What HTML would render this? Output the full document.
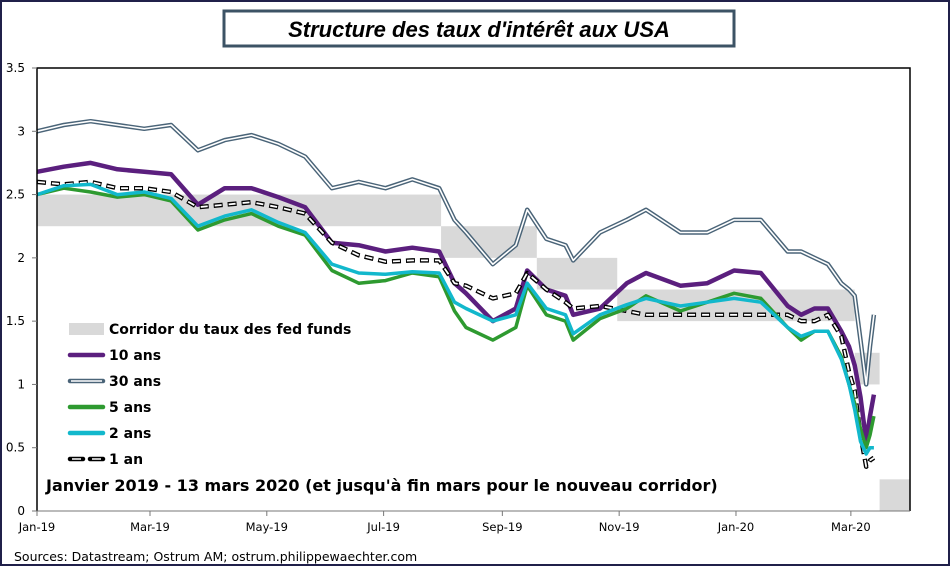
<!DOCTYPE html>
<html><head><meta charset="utf-8"><style>
body{margin:0;background:#fff}
svg{display:block;font-family:"DejaVu Sans","Liberation Sans",sans-serif}
</style></head><body>
<svg id="c" width="950" height="566" viewBox="0 0 950 566" xmlns="http://www.w3.org/2000/svg">
<rect x="1" y="1" width="948" height="564" fill="#fff" stroke="#20204a" stroke-width="2"/>
<rect x="224" y="11" width="510" height="35" fill="#fff" stroke="#3c5365" stroke-width="3"/>
<text x="479" y="37" text-anchor="middle" font-family="Liberation Sans, sans-serif" font-weight="bold" font-style="italic" font-size="22">Structure des taux d'intérêt aux USA</text>
<g id="plot"></g>
<g id="axes"></g>
<g id="legend"></g>
<text x="46" y="491" font-weight="bold" font-size="16">Janvier 2019 - 13 mars 2020 (et jusqu'à fin mars pour le nouveau corridor)</text>
<text x="14" y="561" font-size="12.5">Sources: Datastream;  Ostrum AM; ostrum.philippewaechter.com</text>
</svg>
<script>
// days since 2019-01-01
const days = [0,14,28,42,56,70,84,98,112,126,140,154,168,182,196,210,218,224,238,250,256,266,276,280,294,308,318,336,350,364,378,392,399,406,413,420,424,427,430,433,435,437];
const y30 = [3.0,3.05,3.08,3.05,3.02,3.05,2.85,2.93,2.97,2.9,2.8,2.55,2.6,2.55,2.62,2.55,2.3,2.2,1.95,2.1,2.38,2.15,2.1,1.98,2.2,2.3,2.38,2.2,2.2,2.3,2.3,2.05,2.05,2.0,1.95,1.8,1.75,1.7,1.35,1.0,1.3,1.55];
const y10 = [2.68,2.72,2.75,2.7,2.68,2.66,2.42,2.55,2.55,2.48,2.4,2.12,2.1,2.05,2.08,2.05,1.8,1.72,1.5,1.6,1.9,1.75,1.7,1.55,1.6,1.8,1.88,1.78,1.8,1.9,1.88,1.62,1.55,1.6,1.6,1.42,1.3,1.15,0.9,0.55,0.75,0.92];
const y5 = [2.5,2.55,2.52,2.48,2.5,2.45,2.22,2.3,2.35,2.25,2.18,1.9,1.8,1.82,1.88,1.85,1.58,1.45,1.35,1.45,1.78,1.55,1.5,1.35,1.52,1.6,1.7,1.58,1.65,1.72,1.68,1.45,1.35,1.42,1.42,1.22,1.0,0.85,0.65,0.5,0.6,0.75];
const y2 = [2.5,2.57,2.58,2.5,2.52,2.47,2.25,2.33,2.38,2.28,2.2,1.95,1.88,1.87,1.89,1.88,1.65,1.6,1.5,1.55,1.8,1.6,1.55,1.4,1.55,1.63,1.68,1.62,1.65,1.68,1.65,1.45,1.38,1.42,1.42,1.2,1.0,0.8,0.55,0.45,0.5,0.5];
const y1 = [2.6,2.58,2.6,2.55,2.55,2.52,2.4,2.42,2.44,2.4,2.35,2.12,2.02,1.97,1.98,1.98,1.8,1.78,1.68,1.72,1.88,1.75,1.65,1.6,1.62,1.58,1.55,1.55,1.55,1.55,1.55,1.55,1.5,1.5,1.55,1.38,1.1,0.95,0.6,0.35,0.4,0.42];
const corrStart = [0,211,261,303,427,440];
const corrEnd = [211,261,303,427,440,456];
const corrLow = [2.25,2.0,1.75,1.5,1.0,0.0];
const corrHigh = [2.5,2.25,2.0,1.75,1.25,0.25];
const yTicks = [0,0.5,1,1.5,2,2.5,3,3.5];
const yTickLabels = ["0","0.5","1","1.5","2","2.5","3","3.5"];
const xTickDays = [0,59,120,181,243,304,365,425];
const xTickLabels = ["Jan-19","Mar-19","May-19","Jul-19","Sep-19","Nov-19","Jan-20","Mar-20"];

const NS="http://www.w3.org/2000/svg";
const X0=37,X1=910,Y0=511,Y1=68;
const xs=d=>X0+d*1.915;
const ys=v=>Y0-(v/3.5)*(Y0-Y1);
function mk(tag,attrs,parent){const e=document.createElementNS(NS,tag);for(const k in attrs)e.setAttribute(k,attrs[k]);parent.appendChild(e);return e;}
const plot=document.getElementById('plot'),axes=document.getElementById('axes'),leg=document.getElementById('legend');

for(let i=0;i<corrStart.length;i++){
  const r=mk('rect',{x:xs(corrStart[i]),y:ys(corrHigh[i]),width:xs(corrEnd[i])-xs(corrStart[i]),height:ys(corrLow[i])-ys(corrHigh[i]),fill:'#d9d9d9'},plot);
  
  
}
function pts(arr){return arr.map((v,i)=>xs(days[i]).toFixed(1)+','+ys(v).toFixed(1)).join(' ');}
function line(arr,name,stroke,w,extra){
  const p=mk('polyline',Object.assign({points:pts(arr),fill:'none',stroke:stroke,'stroke-width':w,'stroke-linejoin':'round'},extra||{}),plot);
  
  
}
line(y30,'series-30-ans','#4a6478',4.5);
line(y30,'series-30-ans-inner','#fff',1.6);
line(y10,'series-10-ans','#5b1f7e',4.5);
line(y1,'series-1-an','#000',4.5,{'stroke-dasharray':'9 5'});
line(y1,'series-1-an-inner','#fff',1.8,{'stroke-dasharray':'7 7','stroke-dashoffset':'-1'});
line(y5,'series-5-ans','#2e9a30',3.5);
line(y2,'series-2-ans','#12b8cc',3.5);

const frame=mk('polyline',{points:`${X0},${Y0} ${X0},${Y1} ${X1},${Y1} ${X1},${Y0}`,fill:'none',stroke:'#000','stroke-width':1.5},axes);


const xa=mk('line',{x1:X0,y1:Y0,x2:X1,y2:Y0,stroke:'#777','stroke-width':1},axes);


yTicks.forEach((v,i)=>{
  const t=mk('line',{x1:X0-5,y1:ys(v),x2:X0,y2:ys(v),stroke:'#777'},axes);
  
  
  const l=mk('text',{x:25,y:ys(v)+4,'text-anchor':'end','font-size':12},axes);
  l.textContent=yTickLabels[i];
  
  
});
xTickDays.forEach((d,i)=>{
  const t=mk('line',{x1:xs(d),y1:Y0,x2:xs(d),y2:Y0+5,stroke:'#777'},axes);
  
  
  const l=mk('text',{x:xs(d),y:531,'text-anchor':'middle','font-size':11.5},axes);
  l.textContent=xTickLabels[i];
  
  
});

const legItems=[["Corridor du taux des fed funds","band"],["10 ans","#5b1f7e"],["30 ans","double"],["5 ans","#2e9a30"],["2 ans","#12b8cc"],["1 an","dash"]];
legItems.forEach((it,i)=>{
  const y=329+i*26;
  if(it[1]==='band'){mk('rect',{x:69,y:y-6,width:35,height:12,fill:'#d9d9d9'},leg);}
  else if(it[1]==='double'){mk('line',{x1:70,y1:y,x2:103,y2:y,stroke:'#4a6478','stroke-width':4.5,'stroke-linecap':'round'},leg);mk('line',{x1:71,y1:y,x2:102,y2:y,stroke:'#fff','stroke-width':1.6},leg);}
  else if(it[1]==='dash'){mk('line',{x1:70,y1:y,x2:104,y2:y,stroke:'#000','stroke-width':4.5,'stroke-dasharray':'13 7','stroke-linecap':'round'},leg);mk('line',{x1:72,y1:y,x2:104,y2:y,stroke:'#fff','stroke-width':1.6,'stroke-dasharray':'9 11'},leg);}
  else mk('line',{x1:70,y1:y,x2:103,y2:y,stroke:it[1],'stroke-width':4.5,'stroke-linecap':'round'},leg);
  const t=mk('text',{x:109,y:y+5,'font-size':14,'font-weight':'bold'},leg);
  t.textContent=it[0];
  
  
});
</script>
</body></html>
